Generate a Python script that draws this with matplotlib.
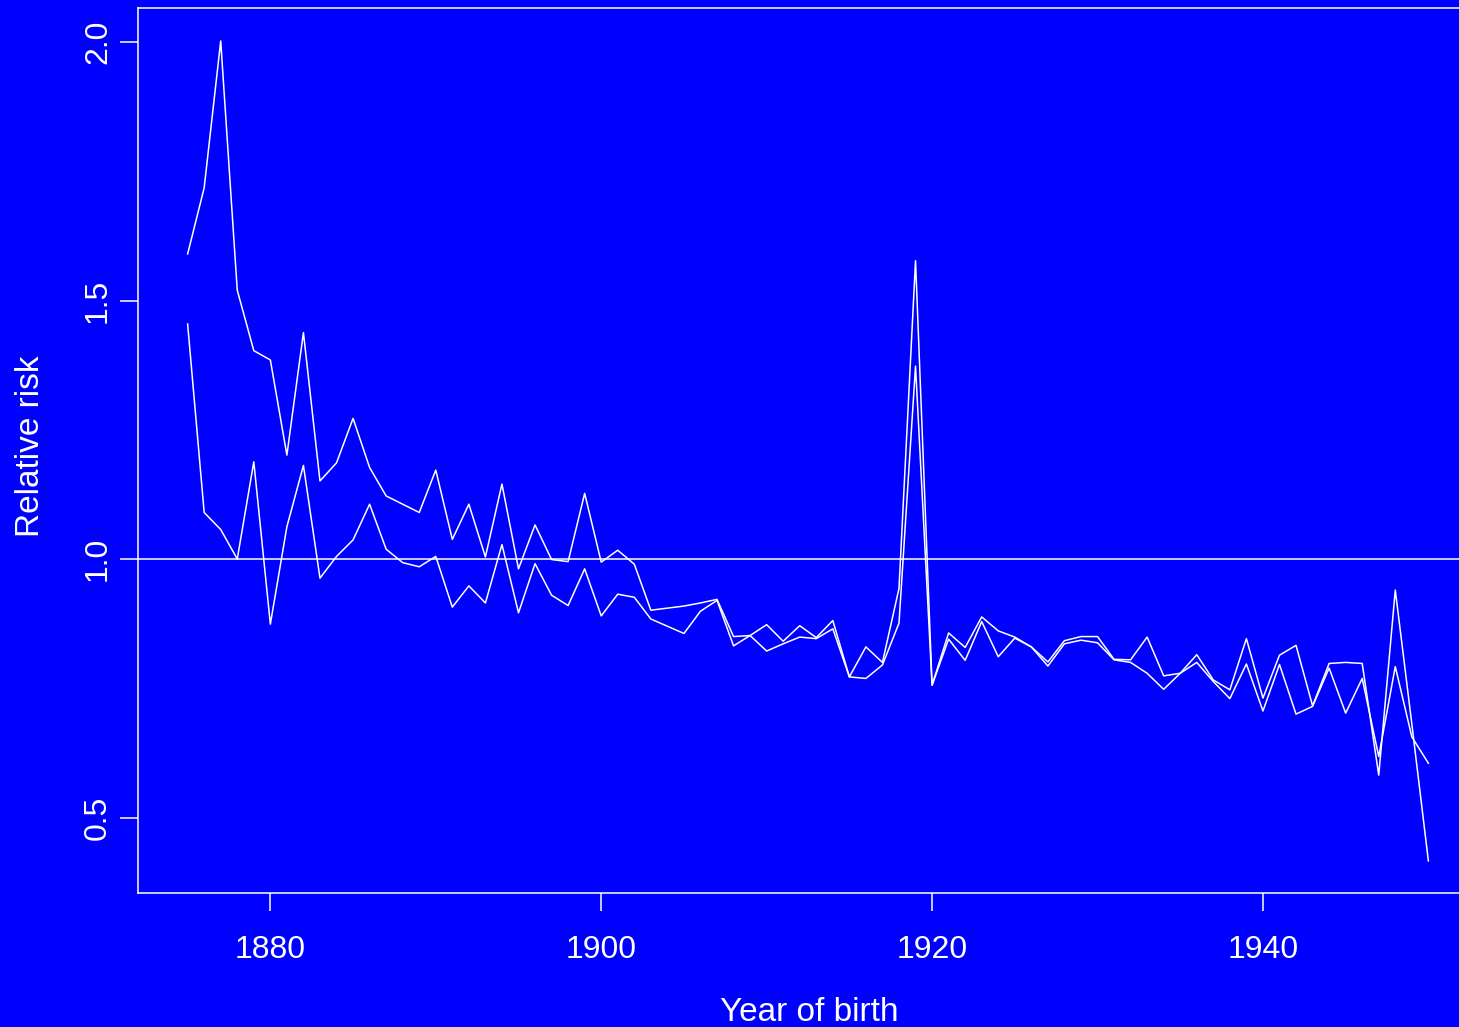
import numpy as np
import matplotlib
matplotlib.use("Agg")
from matplotlib import pyplot as plt

plt.rcParams['font.family'] = ['Liberation Sans', 'DejaVu Sans']

years = list(range(1875, 1951))

# first series (the one with the 1877 peak)
risk_a = [1.590, 1.718, 2.002, 1.520, 1.403, 1.385, 1.201, 1.438, 1.151, 1.186,
          1.272, 1.177, 1.122, 1.106, 1.090, 1.172, 1.038, 1.106, 1.004, 1.145,
          0.981, 1.066, 0.999, 0.995, 1.127, 0.994, 1.017, 0.990, 0.901, 0.905,
          0.909, 0.915, 0.922, 0.850, 0.852, 0.873, 0.841, 0.871, 0.848, 0.881,
          0.772, 0.830, 0.800, 0.943, 1.577, 0.756, 0.857, 0.829, 0.888, 0.861,
          0.849, 0.830, 0.801, 0.842, 0.850, 0.850, 0.806, 0.805, 0.849, 0.774,
          0.779, 0.815, 0.766, 0.747, 0.846, 0.731, 0.814, 0.833, 0.716, 0.798,
          0.800, 0.798, 0.582, 0.940, 0.681, 0.416]

# second series
risk_b = [1.4545, 1.090, 1.057, 1.000, 1.188, 0.874, 1.0625, 1.181, 0.963, 1.005,
          1.037, 1.106, 1.019, 0.993, 0.985, 1.005, 0.907, 0.948, 0.915, 1.028,
          0.896, 0.991, 0.930, 0.910, 0.981, 0.890, 0.932, 0.926, 0.884, 0.870,
          0.856, 0.899, 0.920, 0.832, 0.852, 0.822, 0.836, 0.849, 0.846, 0.865,
          0.772, 0.769, 0.795, 0.876, 1.373, 0.756, 0.845, 0.804, 0.879, 0.811,
          0.847, 0.830, 0.793, 0.836, 0.843, 0.838, 0.805, 0.800, 0.779, 0.748,
          0.779, 0.800, 0.763, 0.730, 0.797, 0.706, 0.796, 0.700, 0.715, 0.789,
          0.702, 0.769, 0.618, 0.792, 0.656, 0.605]

x_ticks = [1880, 1900, 1920, 1940]
y_ticks = [0.5, 1.0, 1.5, 2.0]

bg = '#0000ff'
fg = 'white'

W, H = 1459, 1027
fig = plt.figure(figsize=(W / 100, H / 100), dpi=100, facecolor=bg)
# plot region in pixels (the right edge runs past the picture)
left, right, top, bottom = 138, 1478, 8, 893
ax = fig.add_axes([left / W, 1 - bottom / H, (right - left) / W, (bottom - top) / H])
ax.set_facecolor(bg)

ax.plot(years, risk_a, color=fg, lw=1.1)
ax.plot(years, risk_b, color=fg, lw=1.1)
ax.axhline(1.0, color=fg, lw=1.1)

ax.set_xlim(1872, 1953)
ax.set_ylim(0.354, 2.0658)

for s in ax.spines.values():
    s.set_color(fg)
    s.set_linewidth(1.1)

ax.set_xticks(x_ticks)
ax.set_xticklabels([str(t) for t in x_ticks])
ax.set_yticks(y_ticks)
ax.set_yticklabels([str(t) for t in y_ticks], rotation=90, va='center')
ax.tick_params(axis='both', colors=fg, labelcolor=fg, labelsize=23,
               length=13, width=1.1, direction='out')
ax.tick_params(axis='x', pad=17)
ax.tick_params(axis='y', pad=5)

fig.text(31 / W, 1 - 446 / H, 'Relative risk', rotation=90, ha='center',
         va='center', color=fg, fontsize=24)
fig.text(809 / W, 1 - 1021 / H, 'Year of birth', ha='center',
         va='baseline', color=fg, fontsize=24)

fig.savefig('out.png', dpi=100, facecolor=bg)
